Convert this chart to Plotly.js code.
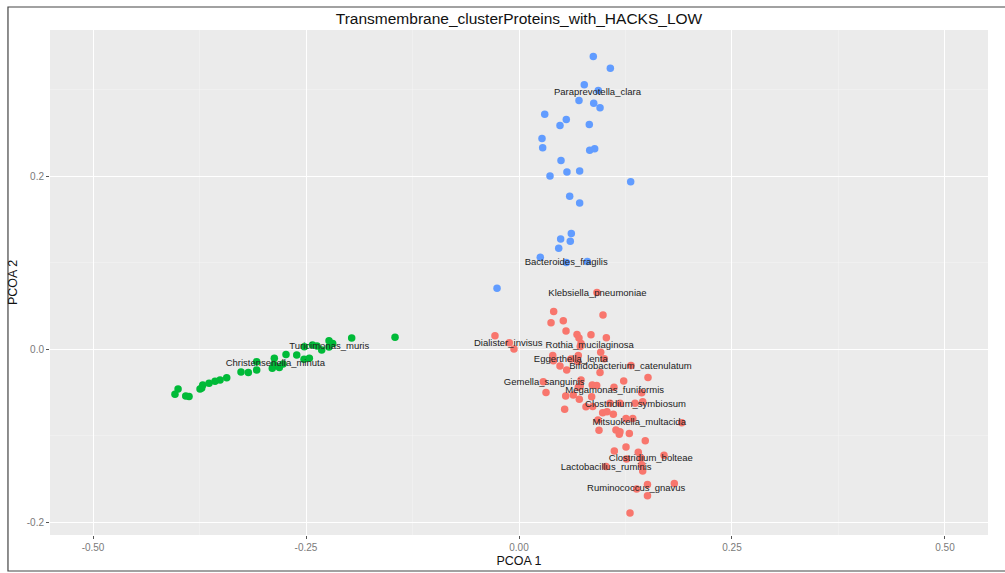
<!DOCTYPE html>
<html>
<head>
<meta charset="utf-8">
<script src="https://cdn.plot.ly/plotly-3.0.1.min.js"></script>
<style>
  html, body { margin: 0; padding: 0; background: #fff; }
  #chart { width: 1005px; height: 573px; }
</style>
</head>
<body>
<div id="chart"></div>
<script>
// Cluster 1 (red)
const redX = [0.0407, 0.0986, 0.0376, 0.0520, 0.0552, 0.0681, 0.0845, 0.0704, 0.1025, -0.0282,
  -0.0114, -0.0059, 0.0728, 0.0719, 0.0959, 0.0396, 0.0696, 0.1001, 0.0610, 0.0403,
  0.0689, 0.0481, 0.0560, 0.1315, 0.0951, 0.1514, 0.1229, 0.0285, 0.0317, 0.0719,
  0.0860, 0.0912, 0.1115, 0.0548, 0.0708, 0.0853, 0.1440, 0.0786, 0.0865, 0.0536,
  0.1068, 0.1362, 0.0982, 0.1033, 0.1107, 0.1256, 0.1335, 0.0927, 0.1910, 0.0939,
  0.1138, 0.1185, 0.1177, 0.1295, 0.1482, 0.1256, 0.1119, 0.1400, 0.1702, 0.1262,
  0.1432, 0.1021, 0.1440, 0.1452, 0.1823, 0.1508, 0.1381, 0.1508, 0.1303, 0.0915,
  0.0728, 0.0696, 0.0637, 0.1185, 0.1452];
const redY = [0.0435, 0.0393, 0.0304, 0.0327, 0.0208, 0.0170, 0.0167, 0.0127, 0.0130, 0.0154,
  0.0073, 0.0000, 0.0066, 0.0029, -0.0038, -0.0073, -0.0073, -0.0112, -0.0115, -0.0135,
  -0.0144, -0.0196, -0.0242, -0.0191, -0.0271, -0.0329, -0.0370, -0.0378, -0.0502, -0.0427,
  -0.0416, -0.0421, -0.0442, -0.0543, -0.0581, -0.0551, -0.0505, -0.0666, -0.0664, -0.0696,
  -0.0627, -0.0627, -0.0736, -0.0724, -0.0754, -0.0803, -0.0803, -0.0820, -0.0851, -0.0939,
  -0.0935, -0.0955, -0.0985, -0.0976, -0.1059, -0.1132, -0.1178, -0.1193, -0.1228, -0.1270,
  -0.1259, -0.1359, -0.1339, -0.1409, -0.1555, -0.1565, -0.1619, -0.1695, -0.1897, 0.0655,
  -0.0358, -0.0442, -0.0531, -0.0627, -0.0609];

// Cluster 2 (green)
const greenX = [-0.1455, -0.1964, -0.2230, -0.2187, -0.2424, -0.2371, -0.2520, -0.2316, -0.2609, -0.2735,
  -0.2523, -0.2461, -0.2872, -0.3079, -0.2876, -0.2896, -0.2813, -0.2770, -0.3079, -0.3263,
  -0.3177, -0.3431, -0.3509, -0.3568, -0.3638, -0.3712, -0.3724, -0.3873, -0.3912, -0.4002,
  -0.4038, -0.3744, -0.2230];
const greenY = [0.0136, 0.0129, 0.0096, 0.0064, 0.0046, 0.0035, 0.0027, -0.0012, -0.0069, -0.0064,
  -0.0119, -0.0107, -0.0107, -0.0147, -0.0177, -0.0223, -0.0214, -0.0173, -0.0242, -0.0266,
  -0.0271, -0.0331, -0.0358, -0.0373, -0.0396, -0.0416, -0.0450, -0.0549, -0.0543, -0.0462,
  -0.0523, -0.0462, 0.0023];

// Cluster 3 (blue)
const blueX = [0.0872, 0.1072, 0.0766, 0.0931, 0.0704, 0.0877, 0.0951, 0.0302, 0.0555, 0.0481,
  0.0825, 0.0270, 0.0278, 0.0830, 0.0888, 0.0493, 0.0563, 0.0712, 0.0364, 0.1311,
  0.0595, 0.0712, 0.0614, 0.0489, 0.0602, 0.0466, 0.0250, 0.0555, 0.0802, -0.0258];
const blueY = [0.3383, 0.3248, 0.3056, 0.2991, 0.2875, 0.2844, 0.2791, 0.2717, 0.2656, 0.2587,
  0.2598, 0.2436, 0.2329, 0.2298, 0.2318, 0.2182, 0.2047, 0.2059, 0.2001, 0.1934,
  0.1767, 0.1689, 0.1336, 0.1274, 0.1247, 0.1166, 0.1062, 0.1001, 0.1013, 0.0704];

// Species labels
const labelText = ["Paraprevotella_clara", "Bacteroides_fragilis", "Klebsiella_pneumoniae",
  "Dialister_invisus", "Rothia_mucilaginosa", "Eggerthella_lenta", "Bifidobacterium_catenulatum",
  "Gemella_sanguinis", "Megamonas_funiformis", "Clostridium_symbiosum", "Mitsuokella_multacida",
  "Clostridium_bolteae", "Lactobacillus_ruminis", "Ruminococcus_gnavus",
  "Turicimonas_muris", "Christensenella_minuta"];
const labelX = [0.0921, 0.0554, 0.0921, -0.0126, 0.0830, 0.0608, 0.1309, 0.0296, 0.1123, 0.1367,
  0.1411, 0.1547, 0.1023, 0.1376, -0.2227, -0.2860];
const labelY = [0.2964, 0.0997, 0.0643, 0.0066, 0.0038, -0.0124, -0.0204, -0.0389, -0.0485, -0.0639,
  -0.0851, -0.1267, -0.1366, -0.1617, 0.0027, -0.0173];

const xTickVals = [-0.5, -0.25, 0, 0.25, 0.5];
const xTickText = ["-0.50", "-0.25", "0.00", "0.25", "0.50"];
const yTickVals = [-0.2, 0, 0.2];
const yTickText = ["-0.2", "0.0", "0.2"];

const pt = (x, y, color) => ({
  type: 'scatter', mode: 'markers', x: x, y: y,
  marker: {color: color, size: 7.5, line: {width: 0}},
  hoverinfo: 'skip', cliponaxis: false
});

const data = [
  pt(redX, redY, '#F8766D'),
  pt(greenX, greenY, '#00BA38'),
  pt(blueX, blueY, '#619CFF'),
  {
    type: 'scatter', mode: 'text', x: labelX, y: labelY, text: labelText,
    textposition: 'middle center',
    textfont: {family: 'Liberation Sans, Arial, sans-serif', size: 9.5, color: '#222'},
    hoverinfo: 'skip'
  }
];

const axisCommon = {
  showline: false, zeroline: false, showgrid: true,
  gridcolor: '#FFFFFF', gridwidth: 1,
  ticks: 'outside', ticklen: 3, tickwidth: 1, tickcolor: '#555',
  tickfont: {family: 'Liberation Sans, Arial, sans-serif', size: 10, color: '#7a7a7a'},
  tickmode: 'array', fixedrange: true
};

const layout = {
  width: 1005, height: 573,
  margin: {l: 50, r: 17, t: 30, b: 38},
  paper_bgcolor: '#FFFFFF', plot_bgcolor: '#EBEBEB',
  showlegend: false, hovermode: false,
  title: {
    text: 'Transmembrane_clusterProteins_with_HACKS_LOW',
    font: {family: 'Liberation Sans, Arial, sans-serif', size: 15.5, color: '#111'},
    x: 0.5, xref: 'paper', xanchor: 'center', y: 0.968, yanchor: 'middle'
  },
  xaxis: Object.assign({}, axisCommon, {
    range: [-0.5505, 0.5505], tickvals: xTickVals, ticktext: xTickText,
    minor: {tickmode: 'linear', tick0: 0.125, dtick: 0.25, showgrid: true, gridcolor: '#F5F5F5', gridwidth: 0.5, ticks: ''},
    title: {text: 'PCOA 1', standoff: 4, font: {family: 'Liberation Sans, Arial, sans-serif', size: 12.5, color: '#111'}}
  }),
  yaxis: Object.assign({}, axisCommon, {
    range: [-0.215, 0.369], tickvals: yTickVals, ticktext: yTickText,
    minor: {tickmode: 'linear', tick0: 0.1, dtick: 0.2, showgrid: true, gridcolor: '#F5F5F5', gridwidth: 0.5, ticks: ''},
    title: {text: 'PCOA 2', standoff: 6, font: {family: 'Liberation Sans, Arial, sans-serif', size: 12.5, color: '#111'}}
  }),
  shapes: [{
    type: 'rect', xref: 'paper', yref: 'paper',
    x0: -0.0448, x1: 1.05, y0: -0.0713, y1: 1.0455,
    line: {color: '#444', width: 1.2}, fillcolor: 'rgba(0,0,0,0)', layer: 'below'
  }]
};

Plotly.newPlot('chart', data, layout, {displayModeBar: false, staticPlot: true});
</script>
</body>
</html>
